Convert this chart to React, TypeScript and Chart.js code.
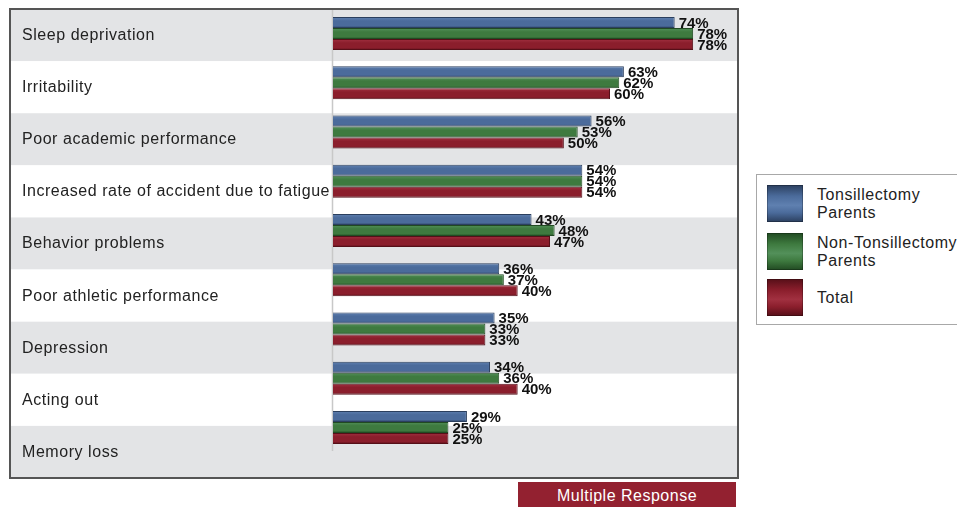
import React, { useEffect, useRef } from 'react';
import { Chart, registerables } from 'chart.js';
Chart.register(...registerables);

const categories = [
  'Sleep deprivation',
  'Irritability',
  'Poor academic performance',
  'Increased rate of accident due to fatigue',
  'Behavior problems',
  'Poor athletic performance',
  'Depression',
  'Acting out',
  'Memory loss',
];
const tonsillectomyParents = [74, 63, 56, 54, 43, 36, 35, 34, 29];
const nonTonsillectomyParents = [78, 62, 53, 54, 48, 37, 33, 36, 25];
const totalValues = [78, 60, 50, 54, 47, 40, 33, 40, 25];
const seriesNames = [['Tonsillectomy', 'Parents'], ['Non-Tonsillectomy', 'Parents'], ['Total']];
const seriesColors = ['#4b6b9b', '#3e7a3f', '#8b1e2c'];
const seriesBorders = ['#2b3f5e', '#214a22', '#560f18'];
const seriesLight = ['#5f80b0', '#53905a', '#a13040'];
const footnote = 'Multiple Response';

const FONT = '"Liberation Sans", Arial, Helvetica, sans-serif';
const FRAME = { left: 10, top: 9, right: 738, bottom: 478 };

const bgPlugin = {
  id: 'bgPlugin',
  beforeDraw(chart: any) {
    const ctx = chart.ctx;
    const n = categories.length;
    const bandH = (FRAME.bottom - FRAME.top) / n;
    ctx.save();
    for (let i = 0; i < n; i++) {
      ctx.fillStyle = i % 2 === 0 ? '#e3e4e6' : '#ffffff';
      ctx.fillRect(FRAME.left, FRAME.top + i * bandH, FRAME.right - FRAME.left, bandH);
    }
    ctx.fillStyle = '#222';
    ctx.font = '16px ' + FONT;
    (ctx as any).letterSpacing = '0.55px';
    ctx.textBaseline = 'middle';
    ctx.textAlign = 'left';
    for (let i = 0; i < n; i++) {
      ctx.fillText(categories[i], 22, FRAME.top + i * bandH + bandH / 2 + 0.5);
    }
    (ctx as any).letterSpacing = '0px';
    const a = chart.chartArea;
    ctx.strokeStyle = '#c8c8c8';
    ctx.lineWidth = 1.5;
    ctx.beginPath();
    ctx.moveTo(a.left - 0.5, FRAME.top);
    ctx.lineTo(a.left - 0.5, a.bottom - 1);
    ctx.stroke();
    ctx.restore();
  },
  afterDatasetsDraw(chart: any) {
    const ctx = chart.ctx;
    ctx.save();
    ctx.fillStyle = '#111';
    ctx.font = 'bold 15px ' + FONT;
    ctx.textBaseline = 'middle';
    ctx.textAlign = 'left';
    chart.data.datasets.forEach((ds: any, di: number) => {
      const meta = chart.getDatasetMeta(di);
      meta.data.forEach((el: any, i: number) => {
        ctx.fillText(ds.data[i] + '%', el.x + 4, el.y + 1);
      });
    });
    ctx.strokeStyle = '#555';
    ctx.lineWidth = 2;
    ctx.strokeRect(FRAME.left, FRAME.top, FRAME.right - FRAME.left, FRAME.bottom - FRAME.top);
    ctx.restore();
  },
};

function barGradient(idx: number) {
  return (c: any) => {
    const chart = c.chart;
    const ys = chart.scales && chart.scales.y;
    if (!ys || c.type !== 'data' || !isFinite(ys.height)) return seriesColors[idx];
    const step = ys.height / categories.length;
    const h = (step * 0.67) / 3;
    const yc = ys.getPixelForValue(c.dataIndex) + (idx - 1) * h;
    const g = chart.ctx.createLinearGradient(0, yc - h / 2, 0, yc + h / 2);
    g.addColorStop(0, seriesLight[idx]);
    g.addColorStop(0.35, seriesColors[idx]);
    g.addColorStop(0.8, seriesColors[idx]);
    g.addColorStop(1, seriesBorders[idx]);
    return g;
  };
}

export default function App() {
  const ref = useRef<HTMLCanvasElement>(null);
  useEffect(() => {
    if (!ref.current) return;
    const data = [tonsillectomyParents, nonTonsillectomyParents, totalValues];
    const chart = new Chart(ref.current, {
      type: 'bar',
      data: {
        labels: categories,
        datasets: data.map((d, i) => ({
          label: seriesNames[i].join(' '),
          data: d,
          backgroundColor: barGradient(i),
          borderColor: seriesBorders[i],
          borderWidth: 1,
          categoryPercentage: 0.67,
          barPercentage: 1,
        })),
      },
      options: {
        indexAxis: 'y',
        responsive: false,
        animation: false,
        layout: { padding: { left: 333, right: 957 - 737, top: 9, bottom: 507 - 452 } },
        scales: {
          x: { display: false, min: 0, max: 87.5 },
          y: { display: false },
        },
        plugins: { legend: { display: false }, tooltip: { enabled: false } },
      },
      plugins: [bgPlugin],
    });
    return () => chart.destroy();
  }, []);

  const swatchTops = [185, 233, 279];
  return (
    <div style={{ position: 'absolute', left: 0, top: 0, width: 957, height: 507, overflow: 'hidden', background: '#fff', fontFamily: FONT }}>
      <canvas ref={ref} width={957} height={507} style={{ position: 'absolute', left: 0, top: 0 }} />
      <div style={{ position: 'absolute', left: 756, top: 174, width: 220, height: 151, border: '1px solid #a8a8a8', background: '#fff', boxSizing: 'border-box' }} />
      {seriesNames.map((name, i) => (
        <React.Fragment key={i}>
          <div style={{
            position: 'absolute', left: 767, top: swatchTops[i], width: 36, height: 37,
            background: `linear-gradient(to bottom, ${seriesBorders[i]} 0%, ${seriesColors[i]} 30%, ${seriesLight[i]} 55%, ${seriesColors[i]} 75%, ${seriesBorders[i]} 100%)`,
            boxShadow: 'inset 0 0 0 1px rgba(0,0,0,0.25)',
          }} />
          <div style={{
            position: 'absolute', left: 817, top: swatchTops[i], height: 37, display: 'flex', flexDirection: 'column', justifyContent: 'center',
            fontSize: 16, lineHeight: '18px', letterSpacing: '0.55px', color: '#222', whiteSpace: 'nowrap',
          }}>
            {name.map((l, j) => <div key={j}>{l}</div>)}
          </div>
        </React.Fragment>
      ))}
      <div style={{
        position: 'absolute', left: 518, top: 482, width: 218, height: 30, background: '#932130', color: '#fff',
        fontSize: 16, lineHeight: '28px', letterSpacing: '0.5px', textAlign: 'center',
      }}>{footnote}</div>
    </div>
  );
}
